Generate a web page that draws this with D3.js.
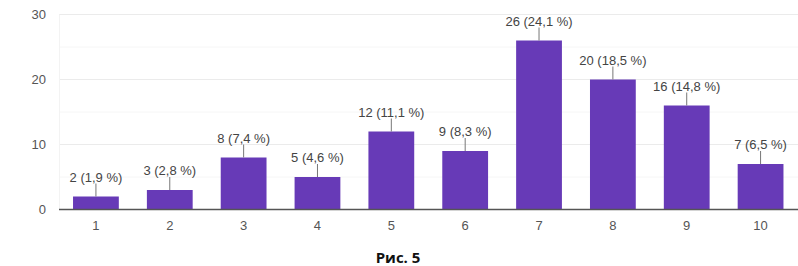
<!DOCTYPE html>
<html>
<head>
<meta charset="utf-8">
<script src="https://cdn.jsdelivr.net/npm/d3@7"></script>
<style>
  body { margin: 0; background: #fff; }
  svg text { font-family: "Liberation Sans", Arial, sans-serif; }
</style>
</head>
<body>
<svg id="chart" width="798" height="266"></svg>
<script>
// data
var categories = ["1", "2", "3", "4", "5", "6", "7", "8", "9", "10"];
var counts = [2, 3, 8, 5, 12, 9, 26, 20, 16, 7];
var percents = ["1,9", "2,8", "7,4", "4,6", "11,1", "8,3", "24,1", "18,5", "14,8", "6,5"];
var yTicks = [0, 10, 20, 30];
var yMinorTicks = [5, 15, 25];

var svg = d3.select("#chart");
var width = +svg.attr("width");

var x = d3.scaleBand()
    .domain(categories)
    .range([59, 797.5])
    .paddingInner(0.38)
    .paddingOuter(0.19);

var y = d3.scaleLinear()
    .domain([0, 30])
    .range([209.5, 14.5]);

// minor gridlines
svg.append("g")
    .selectAll("line")
    .data(yMinorTicks)
    .enter()
    .append("line")
    .attr("x1", 59)
    .attr("x2", width)
    .attr("y1", function (d) { return y(d); })
    .attr("y2", function (d) { return y(d); })
    .style("stroke", "#f6f6f6")
    .style("stroke-width", 1);

// major gridlines
svg.append("g")
    .selectAll("line")
    .data(yTicks.filter(function (d) { return d > 0; }))
    .enter()
    .append("line")
    .attr("x1", 59)
    .attr("x2", width)
    .attr("y1", function (d) { return y(d); })
    .attr("y2", function (d) { return y(d); })
    .style("stroke", "#ebebeb")
    .style("stroke-width", 1);

// faint left edge
svg.append("line")
    .attr("x1", 59.5).attr("x2", 59.5)
    .attr("y1", y(30)).attr("y2", y(0))
    .style("stroke", "#f3f3f3");

// y labels
svg.append("g")
    .selectAll("text")
    .data(yTicks)
    .enter()
    .append("text")
    .attr("x", 46)
    .attr("y", function (d) { return y(d) + 4.5; })
    .attr("text-anchor", "end")
    .style("font-size", "13px")
    .style("fill", "#555")
    .text(function (d) { return d; });

// bars
svg.append("g")
    .selectAll("rect")
    .data(counts)
    .enter()
    .append("rect")
    .attr("x", function (d, i) { return x(categories[i]); })
    .attr("y", function (d) { return y(d); })
    .attr("width", x.bandwidth())
    .attr("height", function (d) { return y(0) - y(d); })
    .style("fill", "#673ab7");

// leader lines
svg.append("g")
    .selectAll("line")
    .data(counts)
    .enter()
    .append("line")
    .attr("x1", function (d, i) { return x(categories[i]) + x.bandwidth() / 2; })
    .attr("x2", function (d, i) { return x(categories[i]) + x.bandwidth() / 2; })
    .attr("y1", function (d) { return y(d); })
    .attr("y2", function (d) { return y(d) - 13; })
    .style("stroke", "#777")
    .style("stroke-width", 1);

// value labels
svg.append("g")
    .selectAll("text")
    .data(counts)
    .enter()
    .append("text")
    .attr("x", function (d, i) { return x(categories[i]) + x.bandwidth() / 2; })
    .attr("y", function (d) { return y(d) - 15; })
    .attr("text-anchor", "middle")
    .style("font-size", "13px")
    .style("fill", "#444")
    .text(function (d, i) { return d + " (" + percents[i] + " %)"; });

// baseline
svg.append("line")
    .attr("x1", 59)
    .attr("x2", width)
    .attr("y1", y(0))
    .attr("y2", y(0))
    .style("stroke", "#555")
    .style("stroke-width", 1.5);

// x labels
svg.append("g")
    .selectAll("text")
    .data(categories)
    .enter()
    .append("text")
    .attr("x", function (d) { return x(d) + x.bandwidth() / 2; })
    .attr("y", 230)
    .attr("text-anchor", "middle")
    .style("font-size", "13px")
    .style("fill", "#555")
    .text(function (d) { return d; });

// caption
svg.append("text")
    .attr("x", 398)
    .attr("y", 263)
    .attr("text-anchor", "middle")
    .style("font-family", "'Open Sans', 'Noto Sans', sans-serif")
    .style("font-size", "15px")
    .style("font-weight", "bold")
    .style("fill", "#111")
    .text("Рис. 5");
</script>
</body>
</html>
